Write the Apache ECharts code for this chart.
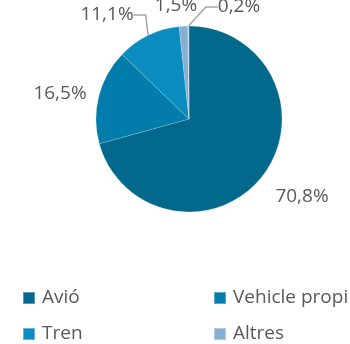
<!DOCTYPE html>
<html>
<head>
<meta charset="utf-8">
<script src="https://cdn.jsdelivr.net/npm/echarts@6/dist/echarts.min.js"></script>
<style>
  html, body { margin: 0; padding: 0; background: #fff; }
  #chart { width: 350px; height: 344px; }
</style>
</head>
<body>
<div id="chart"></div>
<script>
// Share of trips by transport mode (%)
const categories = ['Avió', 'Vehicle propi', 'Tren', 'Altres', 'NS/NC'];
const shares = [70.8, 16.5, 11.1, 1.5, 0.2];
const sliceColors = ['#02688c', '#027dab', '#0a8dbe', '#86b0d2', '#b9cfe3'];

// Where each percentage label sits (label anchor, not the slices)
const labelSpots = [
  { x: 302, y: 197 },
  { x: 60, y: 94 },
  { x: 107, y: 15 },
  { x: 176, y: 6 },
  { x: 239, y: 7 }
];
const showLeader = [false, false, true, false, true];

const fmt = v => v.toFixed(1).replace('.', ',') + '%';
const font = '"Open Sans", "Noto Sans", sans-serif';

const chart = echarts.init(document.getElementById('chart'), null, { renderer: 'canvas' });

const legendCommon = {
  orient: 'vertical',
  top: 288,
  height: 70,
  padding: 0,
  icon: 'rect',
  itemWidth: 12,
  itemHeight: 12,
  itemGap: 16,
  selectedMode: false,
  textStyle: { fontFamily: font, fontSize: 19, lineHeight: 20, color: '#595959', padding: [0, 0, 0, 2] }
};

chart.setOption({
  animation: false,
  color: sliceColors,
  legend: [
    Object.assign({}, legendCommon, { left: 22, data: [categories[0], categories[2]] }),
    Object.assign({}, legendCommon, { left: 213, data: [categories[1], categories[3]] })
  ],
  series: [{
    type: 'pie',
    center: [189, 119],
    radius: 93,
    startAngle: 90,
    clockwise: true,
    avoidLabelOverlap: false,
    itemStyle: { borderColor: 'rgba(255,255,255,0.35)', borderWidth: 0.5 },
    label: {
      show: true,
      position: 'outside',
      fontFamily: font,
      fontSize: 19,
      color: '#595959',
      formatter: p => fmt(p.value)
    },
    labelLine: {
      show: true,
      length: 12,
      length2: 12,
      lineStyle: { color: '#a6a6a6', width: 1.5 }
    },
    labelLayout: p => {
      const s = labelSpots[p.dataIndex];
      return { x: s.x, y: s.y, align: 'center', verticalAlign: 'middle' };
    },
    data: categories.map((name, i) => ({
      name,
      value: shares[i],
      labelLine: { show: showLeader[i] }
    }))
  }]
});
</script>
</body>
</html>
